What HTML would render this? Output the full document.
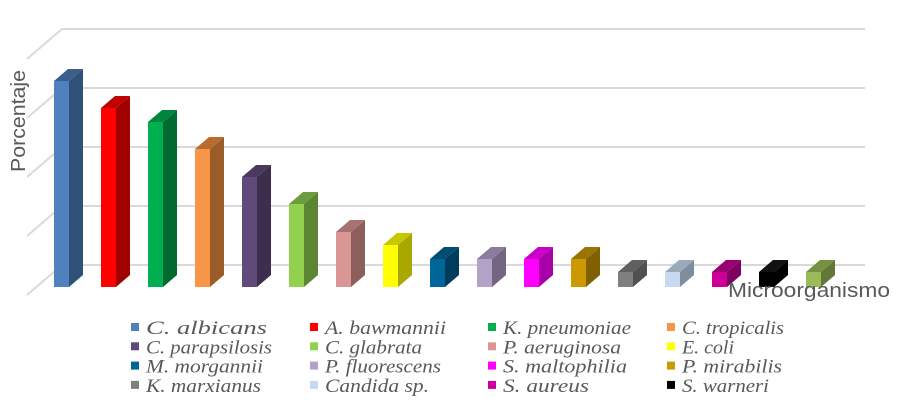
<!DOCTYPE html>
<html><head><meta charset="utf-8"><style>
body{margin:0;background:#fff;width:897px;height:402px;overflow:hidden}
svg{display:block}
.lg{font-family:"Liberation Serif",serif;font-style:italic;font-size:19px;fill:#595959}
</style></head><body>
<svg id="s" width="897" height="402" xmlns="http://www.w3.org/2000/svg">
<g stroke="#d9d9d9" stroke-width="2" fill="none">
<path d="M62 29H865M27 59L62 29"/>
<path d="M62 88H865M27 118L62 88"/>
<path d="M62 147H865M27 177L62 147"/>
<path d="M62 206H865M27 236L62 206"/>
<path d="M62 265H865M27 295L62 265"/>
</g>
<g id="bars"></g>
<text x="25" y="172" transform="rotate(-90 25 172)" font-family="'Liberation Sans',sans-serif" font-size="20" fill="#595959" textLength="102" lengthAdjust="spacingAndGlyphs">Porcentaje</text>
<text x="728" y="297" font-family="'Liberation Sans',sans-serif" font-size="20" fill="#595959" textLength="162" lengthAdjust="spacingAndGlyphs">Microorganismo</text>
<g id="leg"></g>
</svg>
<script>
var d=[["#4f81bd","#3a5f8c","#2f5078",81],["#ff0000","#c00000","#a00000",108],["#00b050","#00853c","#006b30",122],["#f79646","#b86d30","#9a5c28",149],["#604a7b","#4a385e","#3c2e4c",177],["#92d050","#6d9c3c","#5c8532",204],["#d99694","#a87270","#8c5e5c",232],["#ffff00","#c8c800","#a8a800",245],["#006699","#004d73","#003d5c",259],["#b3a2c7","#8a7c9a","#726680",259],["#ff00ff","#c800c8","#a800a8",259],["#cc9900","#9a7400","#806000",259],["#7f7f7f","#606060","#505050",272],["#c6d9f1","#9aaabb","#808e9c",272],["#cc0099","#990073","#80005f",272],["#000000","#111111","#000000",272],["#9bbb59","#779044","#637838",272]];
var h="";
d.forEach(function(b,i){var x=54+47*i,t=b[3],B=287;
h+='<polygon points="'+(x+15)+','+t+' '+(x+29)+','+(t-12)+' '+(x+29)+','+(B-12)+' '+(x+15)+','+B+'" fill="'+b[2]+'"/>';
h+='<polygon points="'+x+','+t+' '+(x+14)+','+(t-12)+' '+(x+29)+','+(t-12)+' '+(x+15)+','+t+'" fill="'+b[1]+'"/>';
h+='<rect x="'+x+'" y="'+t+'" width="15" height="'+(B-t)+'" fill="'+b[0]+'"/>';});
document.getElementById("bars").innerHTML=h;
var n=["C. albicans","A. bawmannii","K. pneumoniae","C. tropicalis","C. parapsilosis","C. glabrata","P. aeruginosa","E. coli","M. morgannii","P. fluorescens","S. maltophilia","P. mirabilis","K. marxianus","Candida sp.","S. aureus","S. warneri"];
var w=[121,121,128,102,126,97,118,52,117,116,124,100,115,104,86,87];
var cx=[131,310,488,667],l="";
n.forEach(function(s,i){var c=i%4,r=Math.floor(i/4),x=cx[c],y=323+r*19.3;
l+='<rect x="'+x+'" y="'+y+'" width="8" height="8" fill="'+d[i][0]+'"/><text class="lg" x="'+(x+15)+'" y="'+(y+11)+'" textLength="'+w[i]+'" lengthAdjust="spacingAndGlyphs">'+s+'</text>';});
document.getElementById("leg").innerHTML=l;
</script>
</body></html>
